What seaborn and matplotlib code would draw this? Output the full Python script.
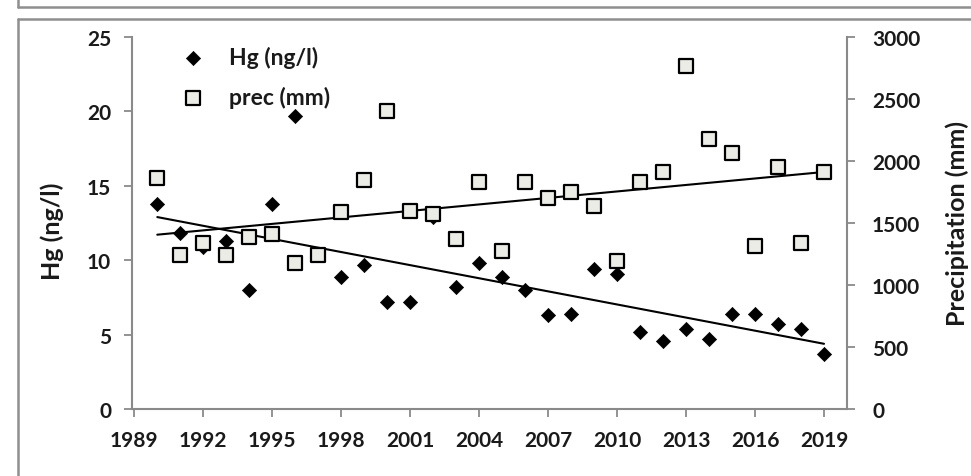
import numpy as np
import pandas as pd
import matplotlib
matplotlib.use("Agg")
import matplotlib.pyplot as plt
from matplotlib.lines import Line2D
import seaborn as sns

years = list(range(1990, 2020))
hg = [13.8, 11.8, 10.9, 11.3, 8.0, 13.8, 19.7, 10.4, 8.9, 9.7,
      7.2, 7.2, 12.9, 8.2, 9.8, 8.9, 8.0, 6.3, 6.4, 9.4,
      9.1, 5.2, 4.6, 5.4, 4.7, 6.4, 6.4, 5.7, 5.4, 3.7]
prec = [1860, 1240, 1340, 1240, 1390, 1410, 1180, 1240, 1590, 1845,
        2400, 1600, 1570, 1375, 1833, 1272, 1833, 1704, 1747, 1639,
        1191, 1827, 1914, 2763, 2178, 2062, 1315, 1949, 1342, 1908]
xticks = list(range(1989, 2020, 3))
hg_ticks = [0, 5, 10, 15, 20, 25]
prec_ticks = [0, 500, 1000, 1500, 2000, 2500, 3000]

df = pd.DataFrame({"year": years, "hg": hg, "prec": prec})

sns.set_style("white")
plt.rcParams["font.family"] = ["Lato", "DejaVu Sans"]
plt.rcParams["font.weight"] = "bold"

W, H = 971, 477
fig = plt.figure(figsize=(W / 100, H / 100), dpi=100)
ax = fig.add_axes([132 / W, 1 - 410 / H, (847 - 132) / W, (410 - 38) / H])
ax2 = ax.twinx()

spine_c = "#8a8a8a"
txt_c = "#1a1a1a"

sns.scatterplot(data=df, x="year", y="hg", marker="D", s=52, color="black",
                edgecolor="black", linewidth=0.5, ax=ax, label="Hg (ng/l)", zorder=3)
sns.regplot(data=df, x="year", y="hg", scatter=False, ci=None, ax=ax,
            line_kws=dict(color="black", lw=1.5, zorder=2))

sns.regplot(data=df, x="year", y="prec", scatter=False, ci=None, ax=ax2,
            line_kws=dict(color="black", lw=1.5, zorder=2))
sns.scatterplot(data=df, x="year", y="prec", marker="s", s=105, color="#ececE6",
                edgecolor="black", linewidth=1.6, ax=ax2, label="prec (mm)", zorder=3)

ax.set_xlim(1988.9, 2020.0)
ax.set_ylim(0, 25)
ax2.set_ylim(0, 3000)
ax.set_xticks(xticks)
ax.set_yticks(hg_ticks)
ax2.set_yticks(prec_ticks)

ax.set_xlabel("")
ax.set_ylabel("Hg (ng/l)", fontsize=18, fontweight="bold", color=txt_c)
ax2.set_ylabel("Precipitation (mm)", fontsize=18, fontweight="bold", color=txt_c)
ax.yaxis.set_label_coords((52 - 132) / 715, 0.48)
ax2.yaxis.set_label_coords((957 - 132) / 715, 0.5)
ax.yaxis.label.set_verticalalignment("center")
ax2.yaxis.label.set_verticalalignment("center")

for a in (ax, ax2):
    a.spines["top"].set_visible(False)
    for s in a.spines.values():
        s.set_color(spine_c)
        s.set_linewidth(1.5)
ax.spines["right"].set_visible(False)
ax2.spines["left"].set_visible(False)
ax2.spines["bottom"].set_visible(False)

ax.tick_params(axis="both", direction="out", length=6, width=1.3, color=spine_c,
               labelsize=15, pad=9, labelcolor=txt_c, left=True, bottom=True)
ax2.tick_params(axis="y", direction="out", length=6, width=1.3, color=spine_c,
                labelsize=15, pad=12, labelcolor=txt_c, right=True)
for lab in ax.get_xticklabels() + ax.get_yticklabels() + ax2.get_yticklabels():
    lab.set_fontweight("bold")

h1, l1 = ax.get_legend_handles_labels()
h2, l2 = ax2.get_legend_handles_labels()
if ax.get_legend() is not None:
    ax.get_legend().remove()
if ax2.get_legend() is not None:
    ax2.get_legend().remove()
leg = ax2.legend(h1 + h2, l1 + l2, loc="upper left",
                 bbox_to_anchor=(163 / W, 1 - 26 / H), bbox_transform=fig.transFigure,
                 frameon=False, handlelength=0.8, handletextpad=1.2,
                 labelspacing=0.8, prop=dict(size=16.5, weight="bold"))
for t in leg.get_texts():
    t.set_color(txt_c)

frame_c = "#8f8f8f"
def fline(x0, y0, x1, y1):
    fig.add_artist(Line2D([x0 / W, x1 / W], [1 - y0 / H, 1 - y1 / H],
                          transform=fig.transFigure, color=frame_c, lw=1.8))
fline(18, 0, 18, 8)
fline(18, 8, W, 8)
fline(18, 20, W, 20)
fline(18, 20, 18, H)

fig.savefig("out.png", dpi=100)
